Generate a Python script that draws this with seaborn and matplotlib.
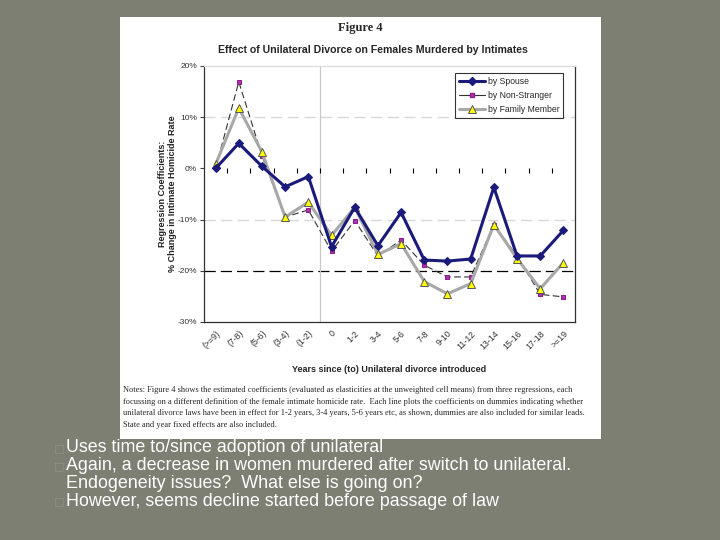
import numpy as np
import pandas as pd
import seaborn as sns
import matplotlib.pyplot as plt
from matplotlib.patches import Rectangle
from matplotlib.lines import Line2D

# data (% change)
periods = ["(>=9)", "(7-8)", "(5-6)", "(3-4)", "(1-2)", "0", "1-2", "3-4",
           "5-6", "7-8", "9-10", "11-12", "13-14", "15-16", "17-18", ">=19"]
spouse = [0.0, 4.9, 0.4, -3.6, -1.6, -15.3, -7.6, -15.1,
          -8.6, -17.9, -18.1, -17.7, -3.7, -17.1, -17.1, -12.1]
non_stranger = [0.0, 16.9, 2.5, -9.5, -8.1, -16.2, -10.2, -17.1,
                -14.0, -18.9, -21.2, -21.2, -11.0, -17.1, -24.6, -25.1]
family = [0.8, 11.8, 3.2, -9.5, -6.6, -13.1, -7.6, -16.8,
          -14.7, -22.1, -24.5, -22.5, -11.0, -17.6, -23.5, -18.4]
yticks = [-30, -20, -10, 0, 10, 20]

bullet_lines = ["Uses time to/since adoption of unilateral",
                "Again, a decrease in women murdered after switch to unilateral.",
                "Endogeneity issues?  What else is going on?",
                "However, seems decline started before passage of law"]
has_bullet = [True, True, False, True]

notes = ("Notes: Figure 4 shows the estimated coefficients (evaluated as elasticities at the unweighted cell means) from three regressions, each\n"
         "focussing on a different definition of the female intimate homicide rate.  Each line plots the coefficients on dummies indicating whether\n"
         "unilateral divorce laws have been in effect for 1-2 years, 3-4 years, 5-6 years etc, as shown, dummies are also included for similar leads.\n"
         "State and year fixed effects are also included.")

df = pd.DataFrame({"period": periods, "pos": np.arange(len(periods)),
                   "spouse": spouse, "non_stranger": non_stranger, "family": family})

sns.set_style("white")
plt.rcParams["font.family"] = ["Liberation Sans", "DejaVu Sans"]

bg = "#7c7f71"
fig = plt.figure(figsize=(7.2, 5.4), dpi=100, facecolor=bg)

# white picture panel
fig.patches.append(Rectangle((120 / 720, 1 - 439 / 540), 481 / 720, 422 / 540,
                             transform=fig.transFigure, facecolor="white",
                             edgecolor="none", zorder=-5))

ax = fig.add_axes([204 / 720, 1 - 322 / 540, 371 / 720, 256 / 540])
ax.set_zorder(2)
ax.set_facecolor("white")

# reference lines
for g in [10, -10]:
    ax.axhline(g, color="#d8d8d8", lw=1, ls=(0, (8, 4)), zorder=1)
ax.axhline(-20, color="black", lw=0.9, ls=(0, (9, 4)), zorder=1)
ax.axvline(4.5, color="#c8c8c8", lw=0.9, zorder=1)
bounds = df["pos"].values[:-1] + 0.5
ax.plot(bounds, np.zeros_like(bounds), ls="none", marker=3, ms=3.5,
        color="black", mew=0.8, zorder=2)

sns.lineplot(data=df, x="pos", y="non_stranger", ax=ax, color="#333333", lw=0.8,
             ls=(0, (6, 3)), marker="s", ms=2.5, mfc="#b030b0", mec="#8a208a",
             sort=False, zorder=3)
sns.lineplot(data=df, x="pos", y="family", ax=ax, color="#a8a8a8", lw=2.2,
             marker="^", ms=6, mfc="#ffff00", mec="#555555", mew=0.7,
             sort=False, zorder=4)
sns.lineplot(data=df, x="pos", y="spouse", ax=ax, color="#1a1a7a", lw=2.2,
             marker="D", ms=3.6, mfc="#1a1a7a", mec="#1a1a7a",
             sort=False, zorder=5)

ax.set_xlim(-0.5, len(periods) - 0.5)
ax.set_ylim(-30, 20)
ax.set_yticks(yticks)
ax.set_yticklabels([f"{v}%" for v in yticks], fontsize=6, color="#333333")
ax.set_xticks(df["pos"])
ax.set_xticklabels(periods, rotation=45, ha="right", rotation_mode="anchor",
                   fontsize=6.3, color="#333333")
ax.tick_params(axis="x", length=0, pad=5)
ax.tick_params(axis="y", length=3, width=0.8, color="#404040", left=True, pad=2)
for s in ["left", "bottom", "right"]:
    ax.spines[s].set_color("#303030")
    ax.spines[s].set_linewidth(0.9)
ax.spines["top"].set_color("#dddddd")
ax.spines["top"].set_linewidth(0.9)

ax.set_xlabel("Years since (to) Unilateral divorce introduced", fontsize=6.5,
              fontweight="bold", labelpad=10)
ax.set_ylabel("Regression Coefficients:\n% Change in Intimate Homicide Rate",
              fontsize=6.5, fontweight="bold", color="#222222", labelpad=0)

handles = [
    Line2D([], [], color="#1a1a7a", lw=2.2, marker="D", ms=3.6),
    Line2D([], [], color="#333333", lw=0.8, marker="s", ms=2.5,
           mfc="#b030b0", mec="#8a208a"),
    Line2D([], [], color="#a8a8a8", lw=2.2, marker="^", ms=6,
           mfc="#ffff00", mec="#555555", mew=0.7),
]
leg = ax.legend(handles, ["by Spouse", "by Non-Stranger", "by Family Member"],
                loc="upper right", bbox_to_anchor=(0.98, 0.99), fontsize=6.2,
                frameon=True, fancybox=False, edgecolor="black",
                handlelength=3.0, handletextpad=0.3, borderpad=0.45,
                labelspacing=0.6)
leg.get_frame().set_linewidth(0.8)

fig.text(360 / 720, 1 - 28 / 540, "Figure 4", fontsize=9, fontweight="bold",
         family="Liberation Serif", ha="center", va="center")
fig.text(373 / 720, 1 - 50 / 540,
         "Effect of Unilateral Divorce on Females Murdered by Intimates",
         fontsize=7.6, fontweight="bold", ha="center", va="center")
fig.text(123 / 720, 1 - 386 / 540, notes, fontsize=6.0, family="Liberation Serif",
         ha="left", va="top", linespacing=1.62)

# slide bullets
rows = [448, 466, 483, 501]
for txt, y, b in zip(bullet_lines, rows, has_bullet):
    if b:
        fig.text(54 / 720, 1 - y / 540, "\u25A1", fontsize=8, color="#8f9684",
                 family="DejaVu Sans", ha="left", va="center")
    fig.text(66 / 720, 1 - y / 540, txt, fontsize=12.9, color="white",
             ha="left", va="center")

fig.savefig("out.png", dpi=100, facecolor=bg)
